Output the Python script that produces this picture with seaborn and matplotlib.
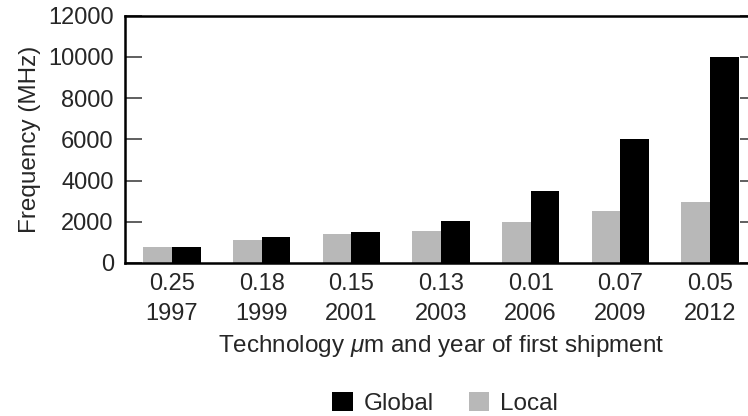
import pandas as pd
import seaborn as sns
from matplotlib import pyplot as plt

# data
tech = ['0.25', '0.18', '0.15', '0.13', '0.01', '0.07', '0.05']
years = ['1997', '1999', '2001', '2003', '2006', '2009', '2012']
local_mhz = [750, 1100, 1400, 1550, 2000, 2500, 2950]
global_mhz = [750, 1250, 1500, 2050, 3500, 6000, 10000]
yticks = [0, 2000, 4000, 6000, 8000, 10000, 12000]

labels = [t + '\n' + y for t, y in zip(tech, years)]
d = pd.DataFrame({
    'label': labels * 2,
    'freq': local_mhz + global_mhz,
    'kind': ['Local'] * len(labels) + ['Global'] * len(labels),
})

sns.set_style('white')
plt.rcParams['font.family'] = ['Liberation Sans', 'DejaVu Sans']
plt.rcParams['mathtext.fontset'] = 'custom'
plt.rcParams['mathtext.it'] = 'Liberation Sans:italic'
plt.rcParams['mathtext.rm'] = 'Liberation Sans'

fig = plt.figure(figsize=(7.48, 4.16), dpi=100)
ax = fig.add_axes([0.167, 0.368, 0.845, 0.594])

sns.barplot(data=d, x='label', y='freq', hue='kind', order=labels,
            hue_order=['Local', 'Global'],
            palette={'Local': '#b8b8b8', 'Global': '#000000'},
            width=0.64, gap=0, saturation=1, linewidth=0, ax=ax)

ax.set_xlim(-0.525, 6.525)
ax.set_ylim(0, 12000)
ax.set_yticks(yticks)
ax.tick_params(axis='y', direction='in', length=12, width=1.2, color='#444444',
               left=True, right=True, labelsize=17, pad=8)
ax.tick_params(axis='x', length=0, labelsize=17, pad=7)
for lab in ax.get_xticklabels():
    lab.set_linespacing(1.5)
for s in ax.spines.values():
    s.set_linewidth(1.8)
    s.set_color('black')

ax.set_ylabel('Frequency (MHz)', fontsize=17.5, labelpad=5)
ax.set_xlabel('Technology $\\mu$m and year of first shipment', fontsize=17.5, labelpad=6)

h, l = ax.get_legend_handles_labels()
ax.legend([h[1], h[0]], [l[1], l[0]], loc='center', bbox_to_anchor=(0.595, 0.031),
          bbox_transform=fig.transFigure, ncol=2, frameon=False, fontsize=17.5,
          handlelength=0.85, handleheight=0.85, handletextpad=0.45, columnspacing=1.45)

plt.savefig('out.png', dpi=100)
